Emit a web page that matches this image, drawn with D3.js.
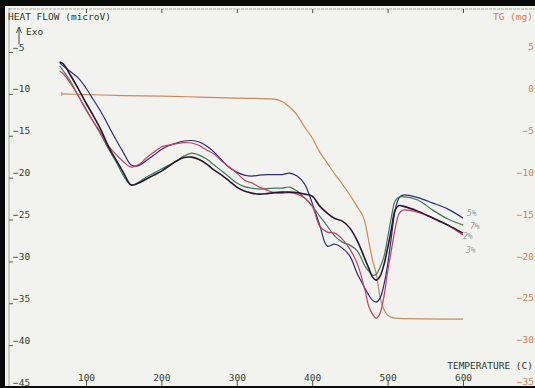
<!DOCTYPE html>
<html>
<head>
<meta charset="utf-8">
<script src="https://cdn.jsdelivr.net/npm/d3@7"></script>
<style>
  html, body { margin: 0; padding: 0; background: #f2f2ee; }
  svg { display: block; }
  text { font-family: "DejaVu Sans Mono", monospace; }
</style>
</head>
<body>
<div id="chart"></div>
<script>
const width = 535;
const height = 388;

// DSC temperatures (C), shared by the four heat flow traces
const temps = [65, 70, 80, 90, 100, 110, 120, 130, 140, 150, 160, 170, 180, 190, 200,
  210, 220, 230, 240, 250, 260, 270, 280, 290, 300, 310, 320, 330, 340, 350, 360,
  370, 380, 390, 400, 410, 420, 430, 440, 450, 460, 470, 475, 480, 485, 490, 495,
  500, 505, 510, 515, 520, 540, 560, 580, 600];

// heat flow (microV)
const flow5 = [-6.3, -6.67, -7.39, -8.11, -9.3, -10.73, -12.17, -13.84, -15.51, -17.07,
  -18.5, -18.56, -17.96, -17.31, -16.65, -16.17, -15.87, -15.63, -15.57, -15.75,
  -16.23, -16.95, -17.9, -18.8, -19.34, -19.7, -19.82, -19.7, -19.64, -19.64, -19.64,
  -19.46, -19.82, -20.77, -23.04, -25.67, -28.18, -27.94, -28.42, -29.37, -31.52,
  -33.2, -34.03, -34.63, -34.87, -34.39, -32.84, -30.45, -27.1, -23.88, -22.44,
  -22.08, -22.38, -23.04, -23.76, -24.83];
const flow7 = [-6.67, -7.27, -8.58, -10.26, -11.81, -13.36, -14.92, -16.59, -18.14, -19.82,
  -20.89, -20.53, -19.93, -19.46, -18.98, -18.5, -18.02, -17.43, -17.07, -17.31,
  -17.78, -18.5, -19.22, -19.93, -20.65, -21.07, -21.25, -21.37, -21.31, -21.25,
  -21.25, -21.13, -21.61, -22.44, -23.4, -24.59, -25.79, -26.98, -27.7, -28.06,
  -28.78, -30.57, -31.17, -31.65, -31.53, -30.69, -29.49, -27.22, -24.71, -22.8,
  -22.32, -22.26, -22.68, -23.88, -24.95, -25.67];
const flow2 = [-7.27, -7.63, -8.82, -10.26, -11.93, -13.36, -14.68, -16.23, -17.25, -18.14,
  -18.74, -18.44, -17.66, -16.95, -16.35, -16.11, -15.93, -15.81, -15.87, -16.17,
  -16.71, -17.19, -18.02, -18.74, -19.46, -20.29, -20.65, -21.13, -21.49, -21.79,
  -21.85, -21.79, -21.97, -22.44, -23.4, -25.79, -26.51, -26.63, -27.34, -28.54,
  -30.33, -33.44, -35.35, -36.3, -36.78, -36.18, -34.27, -31.28, -28.66, -26.15,
  -24.35, -23.88, -24.12, -24.83, -25.67, -26.86];
const flow3 = [-6.19, -6.43, -7.87, -9.42, -11.09, -12.65, -14.32, -16.35, -17.9, -19.46,
  -20.89, -20.65, -20.17, -19.7, -19.22, -18.62, -18.02, -17.6, -17.55, -17.84,
  -18.38, -19.1, -19.7, -20.41, -21.13, -21.61, -21.85, -21.97, -21.91, -21.79,
  -21.73, -21.73, -21.79, -21.97, -22.2, -23.4, -24.24, -24.89, -25.19, -26.03,
  -27.58, -29.73, -30.81, -31.88, -32.24, -31.76, -30.45, -28.42, -26.15, -23.88,
  -23.34, -23.4, -24.0, -24.83, -25.67, -26.63];

// TG trace: temperature (C) and mass change (mg)
const tgTemps = [68, 100, 150, 200, 250, 300, 350, 360, 370, 380, 390, 400, 410, 420,
  430, 440, 450, 460, 470, 475, 480, 485, 490, 495, 500, 505, 510, 520, 600];
const tgMass = [0.0, -0.08, -0.2, -0.26, -0.38, -0.5, -0.62, -0.91, -1.57, -2.53, -3.96,
  -5.27, -6.95, -8.26, -9.58, -10.77, -12.08, -13.52, -15.31, -17.58, -19.85, -21.52,
  -24.27, -25.71, -26.42, -26.66, -26.78, -26.84, -26.9];

const series = [
  { label: '5%', values: flow5, color: '#2b2f78' },
  { label: '7%', values: flow7, color: '#3f7a5c' },
  { label: '2%', values: flow2, color: '#c73e63' },
  { label: '3%', values: flow3, color: '#2a1630' },
];

const tempTicks = [100, 200, 300, 400, 500, 600];
const flowTicks = [-5, -10, -15, -20, -25, -30, -35, -40, -45];
const tgTicks = [5, 0, -5, -10, -15, -20, -25, -30, -35];

const svg = d3.select('#chart').append('svg')
  .attr('width', width)
  .attr('height', height);

svg.append('rect').attr('width', width).attr('height', height).attr('fill', '#f2f2ee');

const x = d3.scaleLinear().domain([100, 600]).range([86, 463]);
const yFlow = d3.scaleLinear().domain([-5, -45]).range([52, 387]);
const yTg = d3.scaleLinear().domain([5, -35]).range([52, 387]);

const inkGreen = '#33432f';
const inkOrange = '#cf8157';

// frame lines
svg.append('line').attr('x1', 9).attr('x2', 9).attr('y1', 8).attr('y2', 386)
  .attr('stroke', '#8a9a88').attr('stroke-width', 0.8);
svg.append('line').attr('x1', 9).attr('x2', 535).attr('y1', 9).attr('y2', 9)
  .attr('stroke', '#8fa08d').attr('stroke-width', 0.8).attr('stroke-dasharray', '3,1');

// left axis (heat flow), labels inside the frame
const leftAxis = svg.append('g')
  .attr('transform', 'translate(9,0)')
  .call(d3.axisRight(yFlow).tickValues(flowTicks).tickSize(4).tickPadding(0)
    .tickFormat(d3.format('d')));
leftAxis.select('.domain').remove();
leftAxis.selectAll('line').attr('stroke', '#55634f');
leftAxis.selectAll('text')
  .attr('x', 4).attr('dy', '-0.2em')
  .attr('fill', inkGreen).attr('font-size', 9.5)
  .style('font-family', '"DejaVu Sans Mono", monospace');

// right axis (TG)
const rightAxis = svg.append('g')
  .attr('transform', 'translate(534,0)')
  .call(d3.axisLeft(yTg).tickValues(tgTicks).tickSize(0).tickPadding(0)
    .tickFormat(d3.format('d')));
rightAxis.select('.domain').remove();
rightAxis.selectAll('text')
  .attr('dy', '-0.25em')
  .attr('fill', inkOrange).attr('font-size', 9.5)
  .style('font-family', '"DejaVu Sans Mono", monospace');

// bottom axis (temperature)
const bottomAxis = svg.append('g')
  .attr('transform', 'translate(0,386)')
  .call(d3.axisTop(x).tickValues(tempTicks).tickSize(5).tickPadding(0)
    .tickFormat(d3.format('d')));
bottomAxis.select('.domain').remove();
bottomAxis.selectAll('line').attr('stroke', '#4a5746');
bottomAxis.selectAll('text')
  .attr('fill', inkGreen).attr('font-size', 9.5)
  .style('font-family', '"DejaVu Sans Mono", monospace');

// top ticks
svg.append('g')
  .attr('transform', 'translate(0,9)')
  .call(d3.axisBottom(x).tickValues(tempTicks).tickSize(4).tickFormat(''))
  .call((g) => g.select('.domain').remove())
  .selectAll('line').attr('stroke', '#4a5746');

// titles
svg.append('text').attr('x', 8).attr('y', 20).attr('font-size', 9.5)
  .attr('fill', '#2e3a2c').text('HEAT FLOW (microV)');
svg.append('text').attr('x', 26).attr('y', 35).attr('font-size', 9.5)
  .attr('fill', '#2e3a2c').text('Exo');
svg.append('path').attr('d', 'M19,44 L19,28 M16.5,33 L19,27 L21.5,33')
  .attr('fill', 'none').attr('stroke', '#2e3a2c').attr('stroke-width', 0.9);
svg.append('text').attr('x', 533).attr('y', 20).attr('font-size', 9.5)
  .attr('text-anchor', 'end').attr('fill', inkOrange).text('TG (mg)');
svg.append('text').attr('x', 533).attr('y', 369).attr('font-size', 9.5)
  .attr('text-anchor', 'end').attr('fill', '#2e3a2c').text('TEMPERATURE (C)');

// TG curve
const tgLine = d3.line()
  .x((d) => x(d[0]))
  .y((d) => yTg(d[1]))
  .curve(d3.curveMonotoneX);
svg.append('path')
  .datum(tgTemps.map((t, i) => [t, tgMass[i]]))
  .attr('d', tgLine)
  .attr('fill', 'none')
  .attr('stroke', '#c98c5c')
  .attr('stroke-width', 1.2);
svg.append('line')
  .attr('x1', x(tgTemps[0])).attr('x2', x(tgTemps[0]))
  .attr('y1', yTg(tgMass[0]) - 2).attr('y2', yTg(tgMass[0]) + 2)
  .attr('stroke', '#c98c5c');

// heat flow curves
const flowLine = d3.line()
  .x((d) => x(d[0]))
  .y((d) => yFlow(d[1]))
  .curve(d3.curveCatmullRom.alpha(0.5));

svg.selectAll('.flow')
  .data(series)
  .enter()
  .append('path')
  .attr('class', 'flow')
  .attr('d', (s) => flowLine(temps.map((t, i) => [t, s.values[i]])))
  .attr('fill', 'none')
  .attr('stroke', (s) => s.color)
  .attr('stroke-width', (s) => (s.label === '3%' ? 1.6 : 1.2));

// handwritten percentage labels
const labelPos = { '5%': [467, 216], '7%': [470, 229], '2%': [463, 239], '3%': [466, 253] };
svg.selectAll('.pct')
  .data(series)
  .enter()
  .append('text')
  .attr('class', 'pct')
  .attr('x', (s) => labelPos[s.label][0])
  .attr('y', (s) => labelPos[s.label][1])
  .attr('font-size', 8)
  .attr('fill', '#9a9c9e')
  .style('font-style', 'italic')
  .text((s) => s.label);

// scanned page border
svg.append('rect').attr('x', 0).attr('y', 0).attr('width', width).attr('height', 6).attr('fill', '#0a0a0a');
svg.append('rect').attr('x', 0).attr('y', 0).attr('width', 5).attr('height', height).attr('fill', '#0a0a0a');
svg.append('rect').attr('x', 0).attr('y', 386).attr('width', width).attr('height', 2).attr('fill', '#0a0a0a');
</script>
</body>
</html>
